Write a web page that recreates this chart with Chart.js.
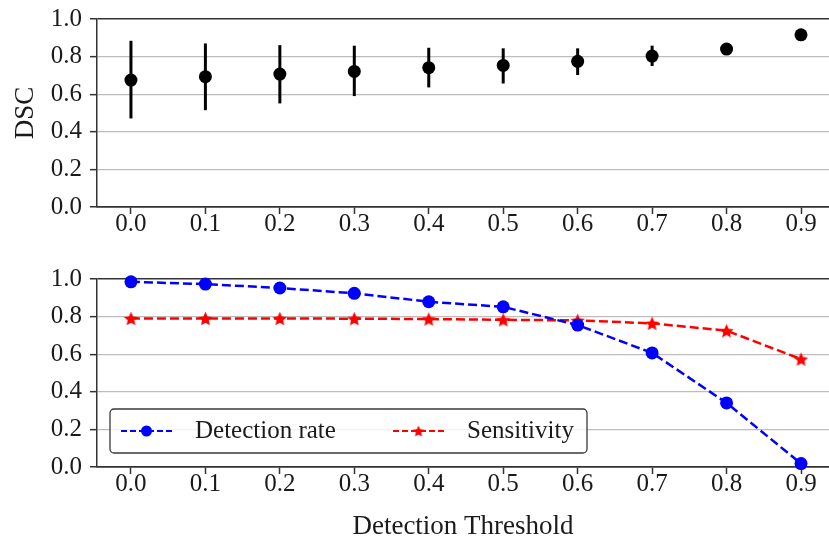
<!DOCTYPE html>
<html><head><meta charset="utf-8">
<script src="https://cdn.jsdelivr.net/npm/chart.js@4/dist/chart.umd.min.js"></script>
<style>
html,body{margin:0;padding:0;background:#fff;}
#wrap{position:relative;width:829px;height:545px;overflow:hidden;background:#fff;}
#c1{position:absolute;left:0;top:0;}
#c2{position:absolute;left:0;top:260px;}
</style></head><body>
<div id="wrap"><canvas id="c1" width="829" height="260"></canvas><canvas id="c2" width="829" height="285"></canvas></div>
<script>
// ---- data ----
const thresholds = [0.0, 0.1, 0.2, 0.3, 0.4, 0.5, 0.6, 0.7, 0.8, 0.9];
const yTickValues = [0.0, 0.2, 0.4, 0.6, 0.8, 1.0];
const dscMean = [0.675, 0.693, 0.707, 0.721, 0.741, 0.753, 0.775, 0.803, 0.840, 0.916];
const dscLow  = [0.471, 0.515, 0.551, 0.590, 0.636, 0.657, 0.702, 0.750, null, null];
const dscHigh = [0.884, 0.870, 0.861, 0.858, 0.847, 0.844, 0.844, 0.858, null, null];
const detectionRate = [0.985, 0.973, 0.952, 0.924, 0.879, 0.852, 0.755, 0.607, 0.341, 0.018];
const sensitivity   = [0.790, 0.790, 0.790, 0.789, 0.787, 0.783, 0.780, 0.764, 0.725, 0.574];
const labelDSC = 'DSC';
const labelX = 'Detection Threshold';
const labelDet = 'Detection rate';
const labelSens = 'Sensitivity';

// ---- styling ----
const FONT = "'Liberation Serif', 'Times New Roman', serif";
const AX = '#333';
const GRID = '#bdbdbd';
const TXT = '#1a1a1a';

function makeStar(r, color) {
  const s = Math.ceil(r * 2 + 2);
  const c = document.createElement('canvas');
  c.width = s; c.height = s;
  const g = c.getContext('2d');
  g.fillStyle = color;
  g.beginPath();
  for (let i = 0; i < 10; i++) {
    const rr = i % 2 === 0 ? r : r * 0.47;
    const a = -Math.PI / 2 + i * Math.PI / 5;
    const x = s / 2 + rr * Math.cos(a), y = s / 2 + rr * Math.sin(a) + r * 0.1;
    if (i === 0) g.moveTo(x, y); else g.lineTo(x, y);
  }
  g.closePath(); g.fill();
  return c;
}
const starBig = makeStar(7.5, '#ff0000');
const starSmall = makeStar(6, '#ff0000');

function xScale(height, title) {
  return {
    type: 'linear', min: -0.0456, max: 0.9376,
    afterBuildTicks: s => { s.ticks = thresholds.map(v => ({ value: v })); },
    afterFit: s => { s.height = height; s.paddingLeft = 0; s.paddingRight = 0; },
    ticks: { color: TXT, font: { family: FONT, size: 25, lineHeight: 1.0 }, padding: -2,
             callback: v => Number(v).toFixed(1), maxRotation: 0, autoSkip: false },
    grid: { drawOnChartArea: false, drawTicks: true, tickLength: 7, tickColor: AX, tickWidth: 1.5 },
    border: { display: true, color: AX, width: 1.5 },
    title: title ? { display: true, text: title, color: TXT, font: { family: FONT, size: 27, lineHeight: 1.2 }, padding: { top: 0, bottom: 2 } } : { display: false }
  };
}
function yScale(title) {
  return {
    type: 'linear', min: 0, max: 1,
    afterBuildTicks: s => { s.ticks = yTickValues.map(v => ({ value: v })); },
    afterFit: s => { s.width = 97; s.paddingTop = 0; s.paddingBottom = 0; },
    ticks: { color: TXT, font: { family: FONT, size: 25 }, padding: 8, callback: v => Number(v).toFixed(1) },
    grid: {
      color: c => (c.tick && (c.tick.value === 1 || c.tick.value === 0)) ? AX : GRID,
      lineWidth: c => (c.tick && (c.tick.value === 1 || c.tick.value === 0)) ? 1.5 : 1.3,
      drawTicks: true, tickLength: 7, tickColor: AX, tickWidth: 1.5
    },
    border: { display: true, color: AX, width: 1.5 },
    title: title ? { display: true, text: title, color: TXT, font: { family: FONT, size: 27, lineHeight: 1.2 }, padding: { top: 10, bottom: 0 } } : { display: false }
  };
}

const errorBars = {
  id: 'errorBars',
  beforeDatasetsDraw(chart) {
    const { ctx, scales: { x, y } } = chart;
    ctx.save();
    ctx.strokeStyle = '#000';
    ctx.lineWidth = 3;
    thresholds.forEach((t, i) => {
      if (dscLow[i] == null || dscHigh[i] == null) return;
      const px = x.getPixelForValue(t);
      ctx.beginPath();
      ctx.moveTo(px, y.getPixelForValue(dscLow[i]));
      ctx.lineTo(px, y.getPixelForValue(dscHigh[i]));
      ctx.stroke();
    });
    ctx.restore();
  }
};

const innerLegend = {
  id: 'innerLegend',
  afterDraw(chart) {
    const { ctx, chartArea } = chart;
    const bx = chartArea.left + 13, by = chartArea.top + 130, bw = 477, bh = 44;
    ctx.save();
    ctx.beginPath();
    ctx.roundRect(bx, by, bw, bh, 4);
    ctx.fillStyle = 'rgba(255,255,255,0.8)';
    ctx.fill();
    ctx.strokeStyle = '#3a3a3a';
    ctx.lineWidth = 1.3;
    ctx.stroke();
    const cy = by + bh / 2;
    const items = [
      { ds: chart.data.datasets[0], x0: bx + 11, tx: bx + 85, marker: 'circle' },
      { ds: chart.data.datasets[1], x0: bx + 283, tx: bx + 357, marker: 'star' }
    ];
    items.forEach(it => {
      ctx.strokeStyle = it.ds.borderColor;
      ctx.lineWidth = 2;
      ctx.setLineDash([6, 3]);
      ctx.beginPath();
      ctx.moveTo(it.x0, cy); ctx.lineTo(it.x0 + 51, cy);
      ctx.stroke();
      ctx.setLineDash([]);
      const mx = it.x0 + 25.5;
      if (it.marker === 'circle') {
        ctx.fillStyle = it.ds.borderColor;
        ctx.beginPath(); ctx.arc(mx, cy, 5.5, 0, Math.PI * 2); ctx.fill();
      } else {
        ctx.drawImage(starSmall, mx - starSmall.width / 2, cy - starSmall.height / 2);
      }
      ctx.fillStyle = TXT;
      ctx.font = '25px ' + FONT;
      ctx.textAlign = 'left';
      ctx.textBaseline = 'middle';
      ctx.fillText(it.ds.label, it.tx, cy);
    });
    ctx.restore();
  }
};

Chart.defaults.font.family = FONT;

new Chart(document.getElementById('c1'), {
  type: 'scatter',
  data: {
    datasets: [{
      label: labelDSC,
      data: thresholds.map((t, i) => ({ x: t, y: dscMean[i] })),
      pointRadius: 6.5, pointBackgroundColor: '#000', pointBorderWidth: 0,
      showLine: false, clip: false
    }]
  },
  options: {
    responsive: false, animation: false, events: [],
    layout: { autoPadding: false, padding: { top: 19, right: 0, left: 0, bottom: 0 } },
    plugins: { legend: { display: false }, tooltip: { enabled: false } },
    scales: { x: xScale(53, null), y: yScale(labelDSC) }
  },
  plugins: [errorBars]
});

new Chart(document.getElementById('c2'), {
  type: 'line',
  data: {
    datasets: [{
      label: labelDet,
      data: thresholds.map((t, i) => ({ x: t, y: detectionRate[i] })),
      borderColor: '#0000ff', backgroundColor: '#0000ff', borderWidth: 2.5, borderDash: [9, 4],
      pointRadius: 6.5, pointBackgroundColor: '#0000ff', pointBorderWidth: 0,
      tension: 0, clip: false, fill: false
    }, {
      label: labelSens,
      data: thresholds.map((t, i) => ({ x: t, y: sensitivity[i] })),
      borderColor: '#ff0000', backgroundColor: '#ff0000', borderWidth: 2.5, borderDash: [9, 4],
      pointStyle: starBig, pointRadius: 7.5, pointBorderWidth: 0,
      tension: 0, clip: false, fill: false
    }]
  },
  options: {
    responsive: false, animation: false, events: [],
    layout: { autoPadding: false, padding: { top: 19, right: 0, left: 0, bottom: 0 } },
    plugins: { legend: { display: false }, tooltip: { enabled: false } },
    scales: { x: xScale(78, labelX), y: yScale(null) }
  },
  plugins: [innerLegend]
});
</script>
</body></html>
